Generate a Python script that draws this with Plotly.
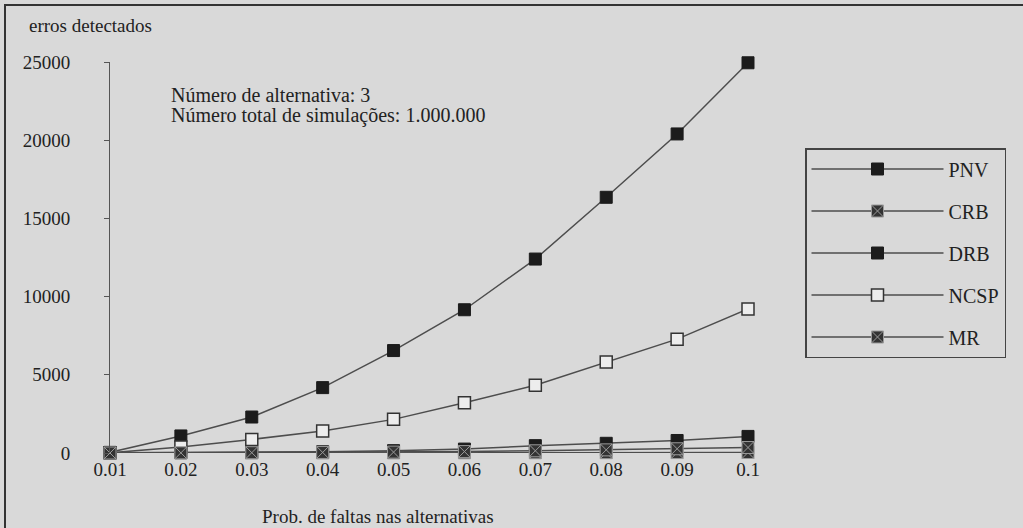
import plotly.graph_objects as go

x_vals = [0.01, 0.02, 0.03, 0.04, 0.05, 0.06, 0.07, 0.08, 0.09, 0.1]
x_labels = ["0.01", "0.02", "0.03", "0.04", "0.05", "0.06", "0.07", "0.08", "0.09", "0.1"]

pnv = [40, 1090, 2300, 4180, 6550, 9160, 12400, 16350, 20400, 24950]
crb = [0, 2, 4, 6, 8, 12, 16, 20, 26, 32]
drb = [10, 25, 45, 80, 150, 250, 470, 620, 800, 1060]
ncsp = [10, 380, 870, 1410, 2150, 3210, 4330, 5820, 7280, 9210]
mr = [0, 10, 20, 35, 55, 90, 140, 200, 270, 350]

y_ticks = [0, 5000, 10000, 15000, 20000, 25000]
y_labels = ["0", "5000", "10000", "15000", "20000", "25000"]

info_lines = ["Número de alternativa: 3", "Número total de simulações: 1.000.000"]

BG = "#d9d9d9"
INK = "#222222"
LINE = "#4d4d4d"
FONT = "'Liberation Serif', 'DejaVu Serif', 'Times New Roman', serif"

W, H = 1023, 528
L, R, T, B = 110, 275, 62, 75
pw, ph = W - L - R, H - T - B


def px_x(p):
    return (p - L) / pw


def px_y(p):
    return (H - B - p) / ph


fig = go.Figure()

series = [
    ("PNV", pnv, dict(symbol="square", color="#1c1c1c", size=12, line=dict(color="#1c1c1c", width=1))),
    ("CRB", crb, dict(symbol="square-x", color="#333333", size=12, line=dict(color="#9a9a9a", width=1))),
    ("DRB", drb, dict(symbol="square", color="#1c1c1c", size=12, line=dict(color="#1c1c1c", width=1))),
    ("NCSP", ncsp, dict(symbol="square", color="#ededed", size=12, line=dict(color="#333333", width=1.5))),
    ("MR", mr, dict(symbol="square-x", color="#333333", size=12, line=dict(color="#9a9a9a", width=1))),
]

for name, ys, mk in series:
    fig.add_trace(go.Scatter(
        x=x_vals, y=ys, name=name, mode="lines+markers",
        line=dict(color=LINE, width=1.5),
        marker=mk, cliponaxis=False, legendgroup=name,
    ))

annotations = [
    dict(text="erros detectados", xref="paper", yref="paper",
         x=px_x(27), y=px_y(25), xanchor="left", yanchor="middle",
         showarrow=False, font=dict(family=FONT, size=19, color=INK)),
    dict(text="Prob. de faltas nas alternativas", xref="paper", yref="paper",
         x=px_x(378), y=px_y(516), xanchor="center", yanchor="middle",
         showarrow=False, font=dict(family=FONT, size=19, color=INK)),
]
for i, txt in enumerate(info_lines):
    annotations.append(dict(
        text=txt, xref="paper", yref="paper", x=px_x(169), y=px_y(95 + 20 * i),
        xanchor="left", yanchor="middle", align="left", showarrow=False,
        font=dict(family=FONT, size=20, color=INK)))

fig.update_layout(
    width=W, height=H,
    margin=dict(l=L, r=R, t=T, b=B),
    paper_bgcolor=BG, plot_bgcolor=BG,
    font=dict(family=FONT, size=19, color=INK),
    showlegend=True,
    legend=dict(
        x=px_x(805), y=px_y(148), xanchor="left", yanchor="top",
        bgcolor=BG, bordercolor="#444444", borderwidth=1.5,
        font=dict(family=FONT, size=20, color=INK),
        traceorder="grouped", tracegroupgap=13,
        itemwidth=132,
    ),
    xaxis=dict(
        range=[0.01, 0.1], tickvals=x_vals, ticktext=x_labels,
        showgrid=False, zeroline=False, showline=False, ticks="",
        tickfont=dict(family=FONT, size=19, color=INK),
        ticklabelstandoff=3,
    ),
    yaxis=dict(
        range=[0, 25000], tickvals=y_ticks, ticktext=y_labels,
        showgrid=False, zeroline=False, showline=True, linecolor="#555555", linewidth=1,
        ticks="outside", ticklen=5, tickcolor="#555555",
        tickfont=dict(family=FONT, size=19, color=INK),
        ticklabelstandoff=30,
    ),
    yaxis2=dict(
        overlaying="y", matches="y", side="left", tickvals=y_ticks,
        showgrid=False, zeroline=False, showline=False, showticklabels=False,
        ticks="inside", ticklen=5, tickcolor="#555555",
    ),
    annotations=annotations,
    shapes=[
        dict(type="rect", xref="paper", yref="paper",
             x0=px_x(5), y0=px_y(545), x1=px_x(1040), y1=px_y(5),
             line=dict(color="#333333", width=2), fillcolor="rgba(0,0,0,0)", layer="below"),
    ],
)

fig.write_html(
    "out.html",
    config={"displayModeBar": False},
    post_script="document.body.style.margin='0';document.body.style.overflow='hidden';document.body.style.background='#d9d9d9';",
)
